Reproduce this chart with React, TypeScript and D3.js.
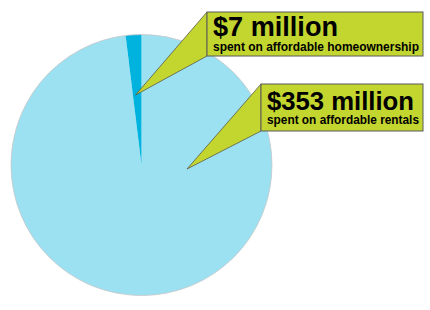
import React from "react";
import * as d3 from "d3";

const categories = ["affordable rentals", "affordable homeownership"];
const values = [353, 7];
const headlines = ["$353 million", "$7 million"];
const sublines = ["spent on affordable rentals", "spent on affordable homeownership"];

const W = 430, H = 310;
const cx = 141.5, cy = 165, R = 130.5;
const sliceColors = ["#9ce1f2", "#00b3de"];

// callout layout (box + pointer tip) per category
const callouts = [
  { box: [261, 84, 162, 47], tip: [187, 169], headY: 110, subY: 124, headSize: 25.7, subSize: 12, tx: 267, headLen: 147, subLen: 152 },
  { box: [207, 12, 216, 44], tip: [135.5, 95], headY: 36, subY: 50.5, headSize: 27, subSize: 12, tx: 213, headLen: 125, subLen: 206 },
];

export default function App() {
  const pie = d3.pie<number>().sort(null).startAngle(0).endAngle(2 * Math.PI);
  const arcs = pie(values);
  const arc = d3.arc<d3.PieArcDatum<number>>().innerRadius(0).outerRadius(R);
  return (
    <svg width={W} height={H} style={{ position: "absolute", left: 0, top: 0 }} fontFamily="'Liberation Sans', Arial, sans-serif">
      <rect width={W} height={H} fill="#fff" />
      <g transform={`translate(${cx},${cy})`}>
        {arcs.map((a, i) => (
          <path key={categories[i]} d={arc(a) || ""} fill={sliceColors[i]} stroke="none" />
        ))}
        <circle r={R} fill="none" stroke="#c8c8c8" strokeWidth={0.8} />
      </g>
      {callouts.map((c, i) => {
        const [x, y, w, h] = c.box;
        const [px, py] = c.tip;
        return (
          <g key={i}>
            <path
              d={`M${x},${y} L${px},${py} L${x},${y + h} Z`}
              fill="#c3d52f"
              stroke="#5a5a4a"
              strokeWidth={0.8}
            />
            <rect x={x} y={y} width={w} height={h} fill="#c3d52f" stroke="#5a5a5a" strokeWidth={1} />
            <text x={c.tx} y={c.headY} fontWeight="bold" fontSize={c.headSize} fill="#000"
              textLength={c.headLen} lengthAdjust="spacingAndGlyphs">
              {headlines[i]}
            </text>
            <text x={c.tx} y={c.subY} fontWeight="bold" fontSize={c.subSize} fill="#000"
              textLength={c.subLen} lengthAdjust="spacingAndGlyphs">
              {sublines[i]}
            </text>
          </g>
        );
      })}
    </svg>
  );
}
